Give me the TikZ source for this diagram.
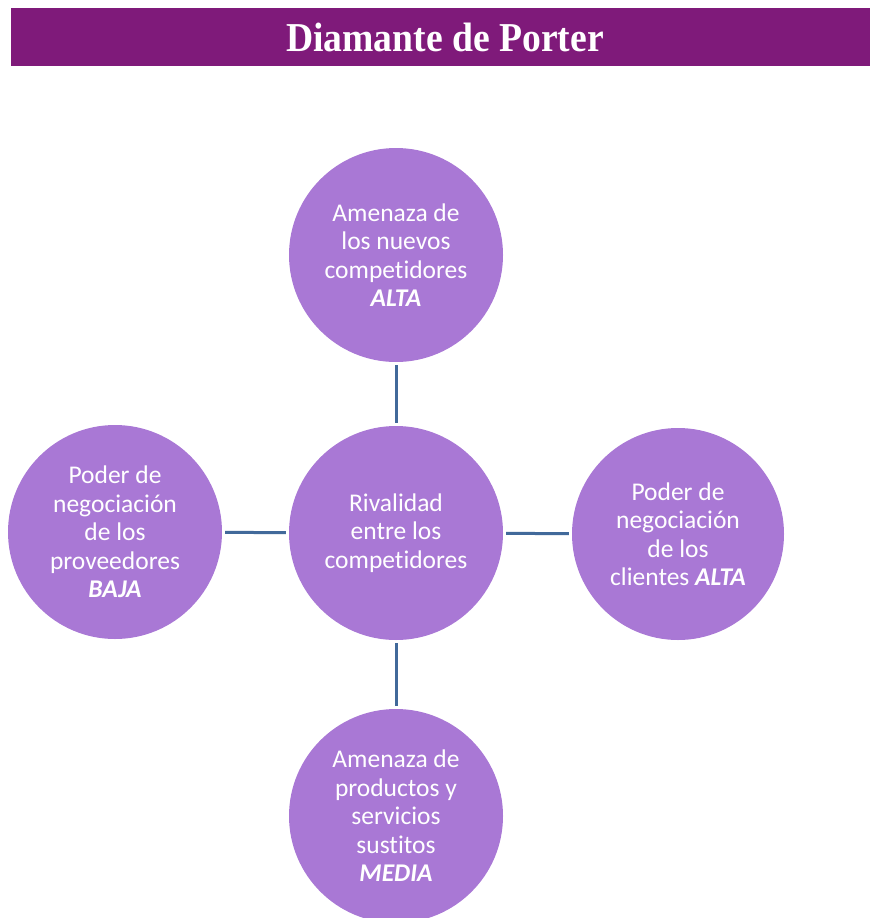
\documentclass[tikz,border=0pt]{standalone}
\usepackage{fontspec}
\setmainfont{Carlito}[Ligatures=NoCommon]
\newfontfamily\titlefont{Liberation Serif}
\definecolor{titlebg}{HTML}{7F1A7A}
\definecolor{circfill}{HTML}{A978D5}
\definecolor{connblue}{HTML}{41699A}
\tikzset{
  titletext/.style={text=white, font=\titlefont\bfseries\fontsize{38}{44}\selectfont, inner sep=0pt},
  forcebox/.style={circle, fill=circfill, minimum size=214pt, inner sep=0pt, text=white, align=center, font=\fontsize{25.5}{28.5}\selectfont},
  conn/.style={draw=connblue, line width=3pt, shorten >=3pt, shorten <=3pt}
}
\begin{document}
\begin{tikzpicture}[x=1pt,y=-1pt]
\useasboundingbox (0,0) rectangle (870,918);
\fill[titlebg] (11,8) rectangle (870,66);
\node[titletext] (title) at (445,37) {\scalebox{0.99}[1.08]{Diamante de Porter}};
\begin{scope}
\clip (0,0) rectangle (870,918);
\node[forcebox] (top) at (396,255) {Amenaza de\\los nuevos\\competidores\\\textbf{\textit{ALTA}}};
\node[forcebox] (center) at (396,533) {Rivalidad\\entre los\\competidores};
\node[forcebox] (left) at (115,532) {Poder de\\negociación\\de los\\proveedores\\\textbf{\textit{BAJA}}};
\node[forcebox, minimum size=212pt] (right) at (678,534) {Poder de\\negociación\\de los\\clientes \textbf{\textit{ALTA}}};
\node[forcebox] (bottom) at (396,816) {Amenaza de\\productos y\\servicios\\sustitos\\\textbf{\textit{MEDIA}}};
\draw[conn] (top) -- (center);
\draw[conn] (left) -- (center);
\draw[conn] (center) -- (right);
\draw[conn] (center) -- (bottom);
\end{scope}
\end{tikzpicture}
\end{document}
